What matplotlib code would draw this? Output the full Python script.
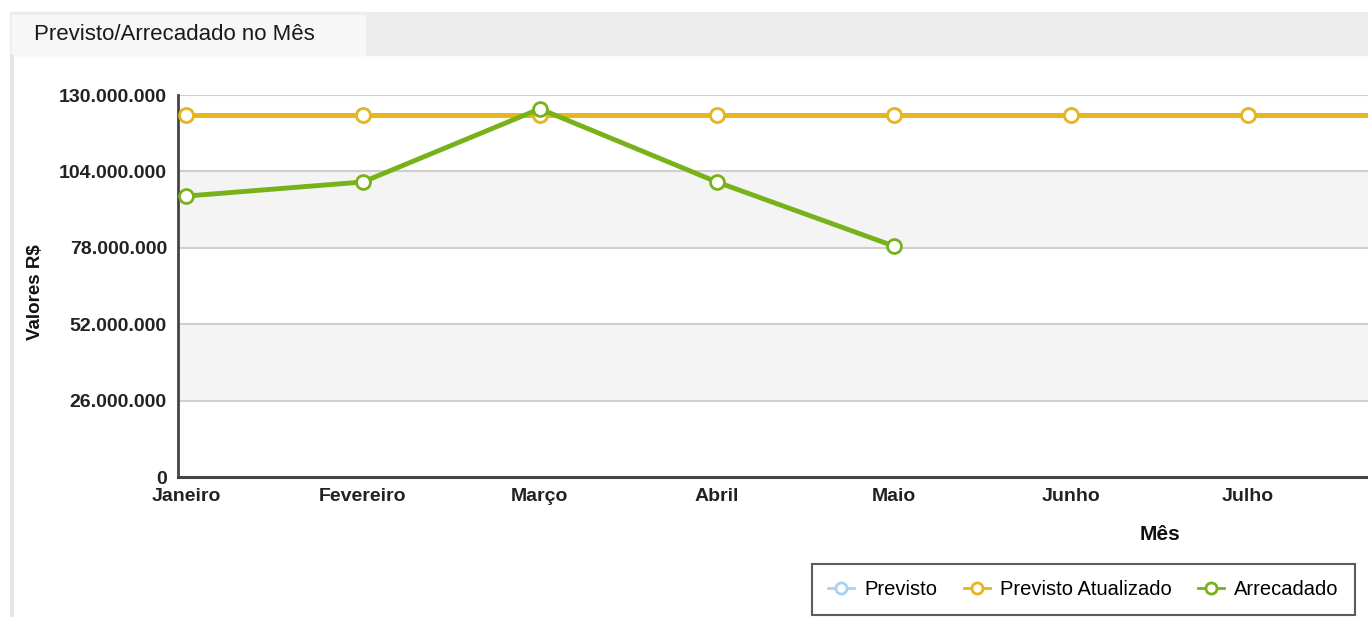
import matplotlib.pyplot as plt
from matplotlib.patches import Rectangle
from matplotlib.ticker import FuncFormatter

plt.rcParams["font.family"] = ["Liberation Sans", "DejaVu Sans"]

# dados
meses = ["Janeiro", "Fevereiro", "Março", "Abril", "Maio", "Junho", "Julho", "Agosto"]
previsto = [123.2e6] * 8
previsto_atualizado = [123.2e6] * 8
arrecadado = [95.6e6, 100.4e6, 125.3e6, 100.4e6, 78.6e6]
y_ticks = [0, 26e6, 52e6, 78e6, 104e6, 130e6]

cor_previsto = "#a9d2f2"
cor_atualizado = "#e8b61c"
cor_arrecadado = "#78b21a"

fig = plt.figure(figsize=(13.68, 6.17), dpi=100)

# moldura / aba
fig.patches.append(Rectangle((10 / 1368, 1 - 55 / 617), 1358 / 1368, 43 / 617,
                             transform=fig.transFigure, color="#ececec", zorder=0))
fig.patches.append(Rectangle((12 / 1368, 1 - 55 / 617), 353 / 1368, 40 / 617,
                             transform=fig.transFigure, color="#f7f7f7", zorder=1))
fig.patches.append(Rectangle((10 / 1368, 0), 3 / 1368, 1 - 55 / 617,
                             transform=fig.transFigure, color="#e6e6e6", zorder=1))
fig.text(34 / 1368, 1 - 35 / 617, "Previsto/Arrecadado no Mês", fontsize=16,
         color="#1a1a1a", va="center", ha="left")

ax = fig.add_axes([178 / 1368, 1 - 477 / 617, 1 - 178 / 1368, (477 - 95) / 617])
x = list(range(len(meses)))

# faixas alternadas
for i in range(len(y_ticks) - 1):
    if i % 2 == 1:
        ax.axhspan(y_ticks[i], y_ticks[i + 1], color="#f4f4f4", zorder=0, lw=0)
for t in y_ticks[1:]:
    ax.axhline(t, color="#cfcfcf", lw=1.5, zorder=1)

mk = dict(marker="o", markersize=10, markerfacecolor="white", markeredgewidth=2)
ax.plot(x, previsto, color=cor_previsto, lw=3.5, markeredgecolor=cor_previsto,
        label="Previsto", zorder=2, **mk)
ax.plot(x, previsto_atualizado, color=cor_atualizado, lw=3.5, markeredgecolor=cor_atualizado,
        label="Previsto Atualizado", zorder=3, **mk)
ax.plot(x[:len(arrecadado)], arrecadado, color=cor_arrecadado, lw=3.5,
        markeredgecolor=cor_arrecadado, label="Arrecadado", zorder=4, **mk)

ax.set_xticks(x)
ax.set_xticklabels(meses)
ax.set_yticks(y_ticks)
ax.set_xlim(-0.045, 6.68)
ax.set_ylim(0, 130e6)
ax.yaxis.set_major_formatter(FuncFormatter(lambda v, p: f"{int(v):,}".replace(",", ".")))
ax.tick_params(length=0, labelsize=14, colors="#222222", pad=8)
ax.tick_params(axis="x", pad=8)
for lab in ax.get_xticklabels() + ax.get_yticklabels():
    lab.set_fontweight("bold")

for s in ["top", "right"]:
    ax.spines[s].set_visible(False)
ax.spines["left"].set_color("#444444")
ax.spines["left"].set_linewidth(2)
ax.spines["bottom"].set_color("#444444")
ax.spines["bottom"].set_linewidth(2.2)

fig.text(35 / 1368, 1 - 292 / 617, "Valores R$", rotation=90, fontsize=13.5,
         fontweight="bold", ha="center", va="center", color="#111111")
fig.text(1160 / 1368, 1 - 534 / 617, "Mês", fontsize=15, fontweight="bold",
         ha="center", va="center", color="#111111")

leg = fig.legend(loc="lower left", bbox_to_anchor=(812 / 1368, 2 / 617), ncol=3,
                 fontsize=14.5, frameon=True, fancybox=False, handlelength=1.3,
                 handletextpad=0.5, columnspacing=1.3, borderpad=0.8,
                 borderaxespad=0)
leg.get_frame().set_edgecolor("#333333")
leg.get_frame().set_linewidth(1.5)
for h in leg.get_lines():
    h.set_linewidth(2)
    h.set_markersize(8)

fig.savefig("out.png", dpi=100)
